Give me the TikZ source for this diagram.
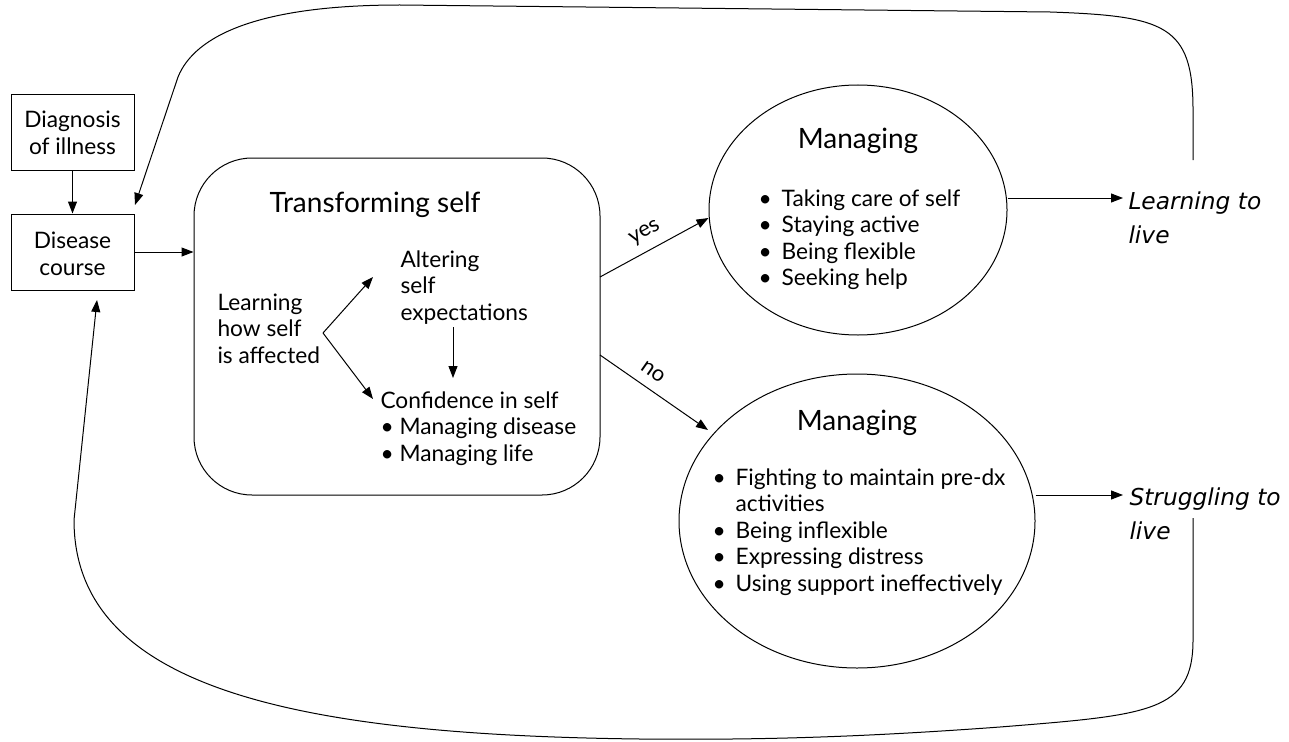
\documentclass[tikz,border=0pt]{standalone}
\usepackage{fontspec}
\setmainfont{Lato}
\newfontfamily\outfont{DejaVu Sans}
\usetikzlibrary{arrows.meta,shapes.geometric,calc}
\tikzset{
  every picture/.style={line width=1pt},
  ar/.style={-{Triangle[length=12pt,width=9pt]}},
  boxx/.style={draw, minimum width=123pt, minimum height=76pt, inner sep=0},
  txt/.style={inner sep=0, anchor=base west, font=\fontsize{22.7}{26.5}\selectfont},
  ctxt/.style={inner sep=0, anchor=base, font=\fontsize{22.7}{27}\selectfont},
  ttl/.style={inner sep=0, anchor=base, font=\fontsize{28}{30}\selectfont},
  itx/.style={inner sep=0, anchor=base west, font=\outfont\fontsize{23.3}{34.5}\selectfont\itshape},
  lbl/.style={font=\fontsize{22}{27}\selectfont, inner sep=0},
  ell/.style={draw, ellipse, inner sep=0},
}
\newcommand{\bl}{\textbullet}
\begin{document}
\begin{tikzpicture}[x=1pt,y=-1pt]
\useasboundingbox (0,0) rectangle (1289,741);
% left boxes
\node[boxx] (dg) at (72.5,132.5) {};
\node[ctxt] at (72.5,128) {\begin{tabular}[t]{@{}c@{}}Diagnosis\\of illness\end{tabular}};
\node[boxx] (dc) at (72.5,252) {};
\node[ctxt] at (72.5,248) {\begin{tabular}[t]{@{}c@{}}Disease\\course\end{tabular}};
\draw[ar] (dg) -- (dc);
% transforming box
\node[draw, rounded corners=58pt, minimum width=406pt, minimum height=337pt, inner sep=0] (tf) at (397,326.5) {};
\draw[ar] (dc.east) -- (dc.east -| tf.west);
\node[ttl] (tft) at (375,212) {Transforming self};
\node[txt] (lh) at (217,310) {\begin{tabular}[t]{@{}l@{}}Learning\\how self\\is affected\end{tabular}};
\node[txt] (al) at (400,267) {\begin{tabular}[t]{@{}l@{}}Altering\\self\\expectations\end{tabular}};
\node[txt] (cf) at (380,408) {\begin{tabular}[t]{@{}l@{\hspace{6pt}}l@{}}\multicolumn{2}{@{}l@{}}{Confidence in self}\\\bl&Managing disease\\\bl&Managing life\end{tabular}};
\coordinate (fork) at (323,333);
\coordinate (forkA) at (373,277);
\coordinate (forkB) at (373,399);
\draw[ar] (fork) -- (forkA);
\draw[ar] (fork) -- (forkB);
\coordinate (alb) at (453,327);
\coordinate (cft) at (453,378);
\draw[ar] (alb) -- (cft);
% ellipses
\node[ell, minimum width=298pt, minimum height=250pt] (e1) at (858,210) {};
\node[ttl] at (858,148) {Managing};
\node[txt] at (758,206) {\begin{tabular}[t]{@{}l@{\hspace{10pt}}l@{}}\bl&Taking care of self\\\bl&Staying active\\\bl&Being flexible\\\bl&Seeking help\end{tabular}};
\node[ell, minimum width=356pt, minimum height=294pt] (e2) at (857,521) {};
\node[ttl] at (857,430) {Managing};
\node[txt] at (712,485) {\begin{tabular}[t]{@{}l@{\hspace{10pt}}l@{}}\bl&Fighting to maintain pre-dx\\&activities\\\bl&Being inflexible\\\bl&Expressing distress\\\bl&Using support ineffectively\end{tabular}};
% yes / no
\coordinate (yA) at (600,277);
\coordinate (nA) at (600,355);
\draw[ar] (yA) -- (e1.west |- 0,218) coordinate (yB);
\node[lbl, rotate=29] at (645,233) {yes};
\draw[ar] (nA) -- (708,430) coordinate (nB);
\node[lbl, rotate=-35] at (653,372) {no};
% outcomes
\node[itx] (ll) at (1128,209) {\begin{tabular}[t]{@{}l@{}}Learning to\\live\end{tabular}};
\node[itx] (sl) at (1129,505) {\begin{tabular}[t]{@{}l@{}}Struggling to\\live\end{tabular}};
\draw[ar] (e1.east |- 0,198) -- (1123,198);
\draw[ar] (e2.east |- 0,495) -- (1123,495);
% feedback loops
\coordinate (lt) at (1193,160);
\coordinate (ls) at (1193,518);
\coordinate (topend) at (135,205);
\coordinate (botend) at (97,300);
\draw[ar] (lt) -- (1193,110) .. controls (1193,25) and (1165,16) .. (1050,12)
  -- (400,5) .. controls (260,5) and (195,35) .. (178,77) -- (topend);
\draw[ar] (ls) -- (1193,640) .. controls (1193,712) and (1150,715) .. (1000,727)
  .. controls (850,738) and (750,740) .. (640,739)
  .. controls (300,735) and (74,690) .. (74,520) -- (botend);
\end{tikzpicture}
\end{document}
